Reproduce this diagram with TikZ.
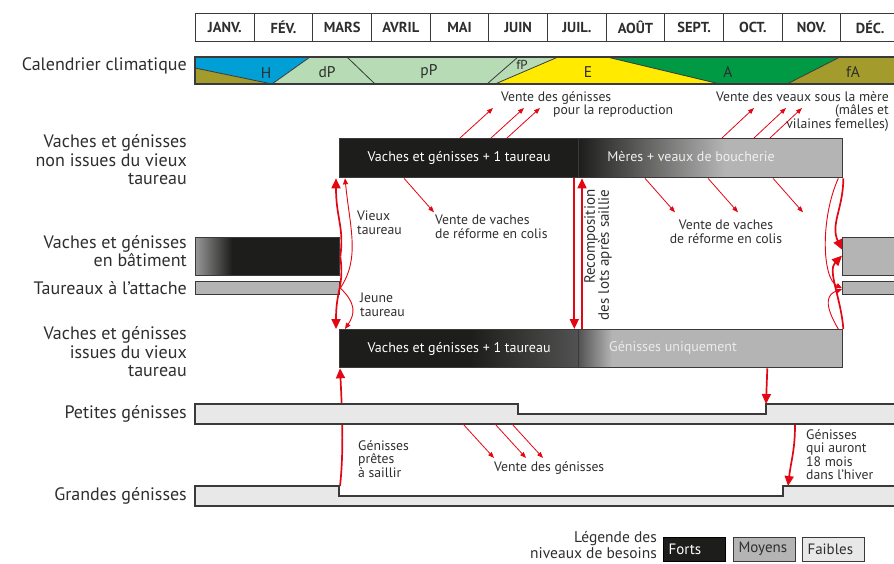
\documentclass[tikz,border=0pt]{standalone}
\usepackage{fontspec}
\setmainfont{PT Sans}
\usetikzlibrary{arrows.meta}

\definecolor{fortc}{HTML}{1D1D1B}
\definecolor{moyc}{HTML}{B4B4B4}
\definecolor{faiblec}{HTML}{E8E8E8}
\definecolor{edgec}{HTML}{3A3A3A}
\definecolor{txtc}{HTML}{2E2E2E}
\definecolor{flowred}{HTML}{E30613}
\definecolor{hiver}{HTML}{00A0D6}
\definecolor{olive}{HTML}{A39B2B}
\definecolor{printemps}{HTML}{B6DBB5}
\definecolor{ete}{HTML}{FFEA00}
\definecolor{automne}{HTML}{009A44}

\begin{document}
\begin{tikzpicture}[x=1pt,y=-1pt,
  month/.style={draw=edgec,line width=1pt,anchor=north west,minimum width=58.67pt,minimum height=28pt,inner sep=0pt,font=\fontsize{14.5}{16}\selectfont\bfseries,text=txtc},
  rowlabel/.style={anchor=east,align=right,text=txtc,font=\fontsize{18}{18.5}\selectfont,inner sep=0pt},
  bar/.style={draw=edgec,line width=1.3pt,anchor=north west,inner sep=0pt,font=\fontsize{14}{15}\selectfont},
  note/.style={text=txtc,font=\fontsize{13.7}{13.5}\selectfont,inner sep=0pt,align=left},
  climat/.style={text=txtc,font=\fontsize{15.5}{15.5}\selectfont,inner sep=0pt},
  legbox/.style={draw=edgec,line width=1pt,anchor=west,text width=52pt,inner xsep=5pt,minimum height=24pt,align=left,font=\fontsize{15}{16}\selectfont},
  flow/.style={draw=flowred,line width=1.7pt,-{Triangle[length=10pt,width=9pt]}},
  thinflow/.style={draw=flowred,line width=0.9pt,-{Triangle[length=6pt,width=5pt]}},
  sale/.style={draw=flowred,line width=0.8pt,-{Triangle[length=6pt,width=4.5pt]}}
]
\useasboundingbox (0,0) rectangle (894,563);

\foreach \m [count=\i] in {JANV.,FÉV.,MARS,AVRIL,MAI,JUIN,JUIL.,AOÛT,SEPT.,OCT.,NOV.,DÉC.}
  \node[month] (m\i) at ({195+(\i-1)*58.67},13) {\m};

\fill[hiver] (195,57) -- (310,57) -- (272,84) -- (195,68) -- cycle;
\fill[olive] (195,68) -- (272,84) -- (195,84) -- cycle;
\fill[printemps] (310,57) -- (558,57) -- (495,84) -- (272,84) -- cycle;
\fill[ete] (558,57) -- (607,57) -- (720,84) -- (495,84) -- cycle;
\fill[automne] (607,57) -- (840,57) -- (787,84) -- (720,84) -- cycle;
\fill[olive] (840,57) -- (900,57) -- (900,84) -- (787,84) -- cycle;
\draw[edgec,line width=0.8pt] (195,68) -- (272,84) -- (310,57) (347,57) -- (375,84) (518,57) -- (487,84)
  (558,57) -- (495,84) (607,57) -- (720,84) (840,57) -- (787,84);
\draw[edgec,line width=1.3pt] (195,57) rectangle (900,84);
\node[climat] (cH) at (266,73) {H};
\node[climat] (cdP) at (327,72) {dP};
\node[climat] (cpP) at (429,72) {pP};
\node[climat,font=\fontsize{13}{13}\selectfont] (cfP) at (522,65) {fP};
\node[climat] (cE) at (588,72) {E};
\node[climat] (cA) at (728,72) {A};
\node[climat] (cfA) at (853,72) {fA};

\node[rowlabel] (lclim) at (187,66) {Calendrier climatique};
\node[rowlabel] (lnon) at (187,160) {Vaches et génisses\\non issues du vieux\\taureau};
\node[rowlabel] (lbat) at (187,251) {Vaches et génisses\\en bâtiment};
\node[rowlabel] (latt) at (187,288) {Taureaux à l’attache};
\node[rowlabel] (liss) at (187,352) {Vaches et génisses\\issues du vieux\\taureau};
\node[rowlabel] (lpet) at (187,414) {Petites génisses};
\node[rowlabel] (lgra) at (187,496) {Grandes génisses};

\fill[fortc] (339,138) rectangle (578,177);
\shade[left color=fortc,right color=moyc] (578,138) rectangle (725,177);
\fill[moyc] (725,138) rectangle (842,177);
\shade[left color=black!40,right color=fortc] (195,237) rectangle (232,275);
\fill[fortc] (232,237) rectangle (339,275);
\fill[moyc] (195,281) rectangle (339,294);
\fill[moyc] (842,237) rectangle (900,275);
\fill[moyc] (842,281) rectangle (900,294);
\fill[fortc] (339,329) rectangle (470,367);
\shade[left color=fortc,right color=black!68] (470,329) rectangle (578,367);
\shade[left color=black!68,right color=moyc] (578,329) rectangle (612,367);
\fill[moyc] (612,329) rectangle (842,367);

\node[bar,minimum width=239pt,minimum height=39pt,text=white] (topL) at (339,138) {Vaches et génisses + 1 taureau};
\node[bar,minimum width=264pt,minimum height=39pt] (topR) at (578,138) {};
\node[bar,minimum width=144pt,minimum height=38pt] (batL) at (195,237) {};
\node[bar,minimum width=144pt,minimum height=13pt] (attL) at (195,281) {};
\node[bar,minimum width=60pt,minimum height=38pt] (batR) at (842,237) {};
\node[bar,minimum width=60pt,minimum height=13pt] (attR) at (842,281) {};
\node[bar,minimum width=239pt,minimum height=38pt,text=white] (lowL) at (339,329) {Vaches et génisses + 1 taureau};
\node[bar,minimum width=264pt,minimum height=38pt] (lowR) at (578,329) {};
\node[font=\fontsize{14}{15}\selectfont,text=white!94!black] (topRtxt) at (691,157) {Mères + veaux de boucherie};
\node[font=\fontsize{14}{15}\selectfont,text=white!92!black] (lowRtxt) at (673,348) {Génisses uniquement};

\coordinate (gs) at (340,486);
\draw[flow] (gs) .. controls +(4,-35) and +(2,40) .. ([xshift=1pt]lowL.south west);

\draw[edgec,line width=1.3pt,fill=faiblec] (195,404) -- (518,404) -- (518,414) -- (766,414) -- (766,404) -- (900,404)
  -- (900,424) -- (195,424) -- cycle;
\draw[edgec,line width=1.3pt,fill=faiblec] (195,486) -- (339,486) -- (339,496) -- (783,496) -- (783,486) -- (900,486)
  -- (900,506) -- (195,506) -- cycle;
\coordinate (pn) at (766,404);
\coordinate (p18) at (795,425);
\coordinate (g18) at (788,486);

\draw[flow] (batL.east) .. controls +(4,-30) and +(0,40) .. ([xshift=-3pt]topL.south west);
\draw[flow] (batL.east) .. controls +(4,30) and +(0,-40) .. ([xshift=-3pt]lowL.north west);
\draw[thinflow] (attL.east) .. controls +(20,-30) and +(5,50) .. ([xshift=6pt]topL.south west);
\draw[thinflow] (attL.east) .. controls +(16,15) and +(10,-15) .. ([xshift=6pt]lowL.north west);
\node[note,anchor=north west] (vieux) at (357,211) {Vieux\\taureau};
\node[note,anchor=north west] (jeune) at (360,293) {Jeune\\taureau};

\draw[flow] (topR.south east) .. controls +(0,30) and +(-12,-25) .. ([yshift=7pt]batR.west);
\draw[flow] (lowR.north east) .. controls +(-2,-30) and +(-15,15) .. ([yshift=1pt]batR.west);
\draw[thinflow] ([xshift=-5pt]topR.south east) .. controls +(-18,40) and +(-20,-10) .. (attR.west);
\draw[thinflow] ([xshift=-5pt]lowR.north east) .. controls +(-15,-25) and +(-15,5) .. ([yshift=-1pt]attR.west);

\draw[flow] ([xshift=-5pt]topL.south east) -- ([xshift=-5pt]lowL.north east);
\draw[flow] ([xshift=4pt]lowR.north west) -- ([xshift=4pt]topR.south west);
\node[note,rotate=90,align=right,font=\fontsize{15}{14}\selectfont] (recomp) at (598,255) {Recomposition\\des lots après saillie};

\draw[flow] ([xshift=-76pt]lowR.south east) -- (pn);
\draw[flow] (p18) .. controls +(0,25) and +(3,-25) .. (g18);
\node[note,anchor=north west] (pretes) at (358,440) {Génisses\\prêtes\\à saillir};
\node[note,anchor=north west] (dixhuit) at (806,429) {Génisses\\qui auront\\18 mois\\dans l’hiver};

\foreach \s in {121,152,168}
  \draw[sale] ([xshift=\s pt]topL.north west) -- ++(33,-30);
\node[note,anchor=north west] (vrepro) at (501,91) {Vente des génisses\\\hspace*{52pt}pour la reproduction};
\foreach \s in {144,176,192}
  \draw[sale] ([xshift=\s pt]topR.north west) -- ++(32,-30);
\node[note,anchor=north east,align=right] (vveaux) at (889,91) {Vente des veaux sous la mère\\(mâles et\\vilaines femelles)};

\draw[sale] ([xshift=65pt]topL.south west) -- ++(30,34);
\node[note,anchor=north west] (vref1) at (435,215) {Vente de vaches\\de réforme en colis};
\foreach \s in {67,130,195}
  \draw[sale] ([xshift=\s pt]topR.south west) -- ++(30,34);
\node[note,anchor=north,align=center] (vref2) at (726,220) {Vente de vaches\\de réforme en colis};

\foreach \s in {268,300,317}
  \draw[sale] ([xshift=\s pt]195,424) -- ++(31,34);
\node[note,anchor=west] (vgen) at (494,468) {Vente des génisses};

\node[note,anchor=east,align=right,font=\fontsize{15.5}{16}\selectfont] (legtxt) at (657,545) {Légende des\\niveaux de besoins};
\node[legbox,fill=fortc,draw=black,text=white] (forts) at (663,549) {Forts};
\node[legbox,fill=moyc,text=txtc] (moyens) at (733,549) {Moyens};
\node[legbox,fill=faiblec,text=txtc] (faibles) at (802,549) {Faibles};
\end{tikzpicture}
\end{document}
